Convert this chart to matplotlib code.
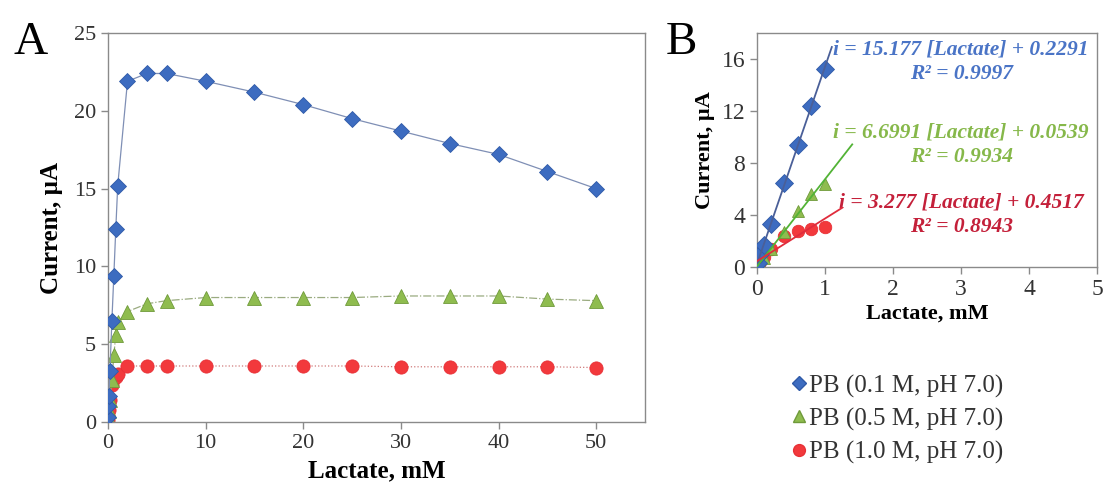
import matplotlib.pyplot as plt
from matplotlib.lines import Line2D

plt.rcParams['font.family'] = ['Liberation Serif', 'DejaVu Serif']

# lactate concentrations, mM
conc_low = [0.01, 0.05, 0.1, 0.2, 0.4, 0.6, 0.8, 1.0]
conc_high = [2, 4, 6, 10, 15, 20, 25, 30, 35, 40, 45, 50]

# current, uA, for each phosphate buffer strength
pb01_low = [0.3, 1.0, 1.7, 3.3, 6.5, 9.4, 12.4, 15.2]
pb01_high = [21.9, 22.4, 22.4, 21.9, 21.2, 20.4, 19.5, 18.7, 17.9, 17.2, 16.1, 15.0]
pb05_low = [0.1, 0.3, 0.7, 1.4, 2.7, 4.3, 5.6, 6.4]
pb05_high = [7.1, 7.6, 7.8, 8.0, 8.0, 8.0, 8.0, 8.1, 8.1, 8.1, 7.9, 7.8]
pb10_low = [0.1, 0.4, 0.8, 1.4, 2.4, 2.8, 2.9, 3.1]
pb10_high = [3.6, 3.6, 3.6, 3.6, 3.6, 3.6, 3.6, 3.55, 3.55, 3.55, 3.55, 3.5]

labels = ['PB (0.1 M, pH 7.0)', 'PB (0.5 M, pH 7.0)', 'PB (1.0 M, pH 7.0)']

# linear fits over 0-1 mM: slope, intercept, R2, end of drawn line
fit_slope = [15.177, 6.6991, 3.277]
fit_icpt = [0.2291, 0.0539, 0.4517]
fit_r2 = [0.9997, 0.9934, 0.8943]
fit_xend = [1.1, 1.4, 1.25]

mk_col = ['#3d6cc0', '#8fbc4f', '#f2393c']
edge_col = ['#2f5aa8', '#6f9a3a', '#e83036']
line_col = ['#7f8fb5', '#9aab80', '#d07a7a']
fit_col = ['#4a5f98', '#52b336', '#e02c3c']
txt_col = ['#4a74c6', '#86b84a', '#c4203a']
markers = ['D', '^', 'o']
styles = ['-', '-.', ':']

lows = [pb01_low, pb05_low, pb10_low]
highs = [pb01_high, pb05_high, pb10_high]

fig = plt.figure(figsize=(11.04, 4.93), dpi=100)
axA = fig.add_axes([0.0978, 0.144, 0.4864, 0.789])
axB = fig.add_axes([0.6857, 0.4584, 0.308, 0.4746])


def style_axes(ax, size):
    for s in ax.spines.values():
        s.set_color('#8a8a8a')
        s.set_linewidth(1.0)
    ax.tick_params(direction='out', color='#8a8a8a', labelcolor='#333333',
                   labelsize=size, length=5, width=1)


# panel A: full concentration range
for i in range(3):
    xs = conc_low + conc_high
    ys = lows[i] + highs[i]
    ms = 8 if markers[i] == 'D' else 9.5
    axA.plot(xs, ys, linestyle=styles[i], color=line_col[i], linewidth=0.9,
             marker=markers[i], markersize=ms, markerfacecolor=mk_col[i],
             markeredgecolor=edge_col[i], markeredgewidth=0.6, zorder=3 - i)
axA.set_xlim(0, 55)
axA.set_ylim(0, 25)
axA.set_xticks(range(0, 51, 10))
axA.set_yticks(range(0, 26, 5))
axA.set_xlabel('Lactate, mM', fontsize=18, fontweight='bold', labelpad=5)
axA.set_ylabel('Current, µA', fontsize=18, fontweight='bold', labelpad=8)
style_axes(axA, 16)

# panel B: linear range with fits
for i in range(3):
    ms = 9.5 if markers[i] == 'D' else 9
    axB.plot(conc_low, lows[i], linestyle='none', marker=markers[i],
             markersize=ms, markerfacecolor=mk_col[i],
             markeredgecolor=edge_col[i], markeredgewidth=0.6, zorder=3 - i)
    fx = [0, fit_xend[i]]
    fy = [fit_icpt[i] + fit_slope[i] * x for x in fx]
    axB.plot(fx, fy, color=fit_col[i], linewidth=1.3, zorder=4)
axB.set_xlim(0, 5)
axB.set_ylim(0, 18)
axB.set_xticks(range(0, 6))
axB.set_yticks(range(0, 17, 4))
axB.set_xlabel('Lactate, mM', fontsize=16, fontweight='bold', labelpad=3)
axB.set_ylabel('Current, µA', fontsize=16, fontweight='bold', labelpad=5)
style_axes(axB, 17)

eq_pos = [(3.0, 15.8), (3.0, 9.4), (3.0, 4.0)]
for i in range(3):
    txt = 'i = %s [Lactate] + %s\nR² = %s' % (
        ('%g' % fit_slope[i]), ('%.4f' % fit_icpt[i]), ('%.4f' % fit_r2[i]))
    axB.text(eq_pos[i][0], eq_pos[i][1], txt, color=txt_col[i], fontsize=15.5,
             fontweight='bold', fontstyle='italic', ha='center', va='center',
             multialignment='center', linespacing=1.3)

fig.text(0.012, 0.89, 'A', fontsize=34)
fig.text(0.603, 0.89, 'B', fontsize=34)

handles = [Line2D([], [], linestyle='none', marker=markers[i],
                  markersize=7 if markers[i] == 'D' else 8.5,
                  markerfacecolor=mk_col[i], markeredgecolor=edge_col[i])
           for i in range(3)]
fig.legend(handles, labels, loc='center left', bbox_to_anchor=(0.697, 0.150),
           frameon=False, fontsize=18, handlelength=0.6, handletextpad=0.1,
           labelspacing=0.4, labelcolor='#333333')

fig.savefig('out.png', dpi=100)
plt.close(fig)
